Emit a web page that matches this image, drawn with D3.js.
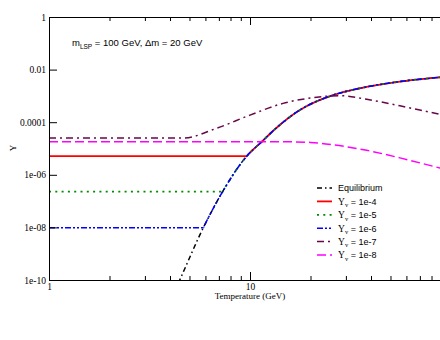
<!DOCTYPE html>
<html><head><meta charset="utf-8">
<script src="https://cdn.jsdelivr.net/npm/d3@7"></script>
<style>body{margin:0;background:#fff}svg{display:block}</style>
</head><body>
<svg id="c" width="440" height="340"></svg>
<script>
// ---- data ----
const eqT = [4.4, 4.52, 5.86, 7.31, 9.63, 11.43, 13.3, 17.7, 25.9, 35.2, 55.7, 88.2, 100];
const eqY = [7.6e-11, 1.2e-10, 9.8e-9, 2.3e-7, 5.1e-6, 1.8e-5, 5.4e-5, 2.9e-4, 1.07e-3, 1.95e-3, 3.5e-3, 5.1e-3, 5.6e-3];

const frozenLabels = ["1e-4", "1e-5", "1e-6"];
const frozenLevel = [5.1e-6, 2.3e-7, 9.8e-9];
const frozenJoinT = [9.63, 7.31, 5.86];

const y7T = [1, 4.65, 6.83, 10, 14.6, 21.5, 28, 38.1, 55.7, 88.2, 100];
const y7Y = [2.5e-5, 2.5e-5, 5.9e-5, 1.86e-4, 5.2e-4, 8.9e-4, 1.02e-3, 7.4e-4, 4.2e-4, 2.0e-4, 1.66e-4];

const y8T = [1, 10, 14, 20, 25.9, 38.1, 55.7, 88.2, 100];
const y8Y = [1.82e-5, 1.82e-5, 1.82e-5, 1.7e-5, 1.38e-5, 8.5e-6, 4.4e-6, 1.8e-6, 1.4e-6];

const yTicks = [1, 1e-2, 1e-4, 1e-6, 1e-8, 1e-10];
const yTickLabels = ["1", "0.01", "0.0001", "1e-06", "1e-08", "1e-10"];
const xMajor = [1, 10, 100];
const xMajorLabels = ["1", "10", ""];
const xMinor = [2,3,4,5,6,7,8,9,20,30,40,50,60,70,80,90];

const legendLabels = ["Equilibrium", "1e-4", "1e-5", "1e-6", "1e-7", "1e-8"];

// ---- layout ----
const L = 49, R = 451, T = 17, B = 280;
const svg = d3.select("#c");
const x = d3.scaleLog().domain([1, 100]).range([L, R]);
const y = d3.scaleLog().domain([1e-10, 1]).range([B, T]);

const serif = "'Liberation Serif', 'Times New Roman', serif";
const sans = "'Liberation Sans', Arial, Helvetica, sans-serif";

const defs = svg.append("defs");
defs.append("clipPath").attr("id", "clip")
  .append("rect").attr("x", L).attr("y", T).attr("width", R - L).attr("height", B - T);

const styles = [
  {color: "#000000", dash: "5,3,1.5,3", w: 1.5},
  {color: "#ff0000", dash: null, w: 1.8},
  {color: "#008b00", dash: "2,4.3", w: 1.8},
  {color: "#0000ff", dash: "6,2,2,2,2,2", w: 1.5},
  {color: "#670748", dash: "7,4,2,4", w: 1.5},
  {color: "#ff00ff", dash: "9,4", w: 1.5}
];

const line = d3.line().x(d => x(d[0])).y(d => y(d[1])).curve(d3.curveMonotoneX);
const eqPts = eqT.map((t, i) => [t, eqY[i]]);
const g = svg.append("g").attr("clip-path", "url(#clip)");

function draw(parent, pts, st) {
  parent.append("path").attr("d", line(pts)).attr("fill", "none")
    .attr("stroke", st.color).attr("stroke-width", st.w)
    .attr("stroke-dasharray", st.dash);
}

// equilibrium
draw(g, eqPts, styles[0]);
// frozen series: flat part, then they follow equilibrium
frozenLevel.forEach((lv, i) => {
  const st = styles[i + 1];
  const xj = x(frozenJoinT[i]);
  draw(g, [[1, lv], [frozenJoinT[i], lv]], st);
  defs.append("clipPath").attr("id", "cj" + i)
    .append("rect").attr("x", xj).attr("y", T).attr("width", R - xj).attr("height", B - T);
  const sub = g.append("g").attr("clip-path", `url(#cj${i})`);
  draw(sub, eqPts, st);
});
draw(g, y7T.map((t, i) => [t, y7Y[i]]), styles[4]);
draw(g, y8T.map((t, i) => [t, y8Y[i]]), styles[5]);

// axes
function styleAxis(sel) {
  sel.selectAll("path.domain").attr("stroke", "#000");
  sel.selectAll(".tick line").attr("stroke", "#000");
  sel.selectAll("text").attr("font-family", serif).attr("font-size", 9.5).attr("fill", "#000");
}
const bx = svg.append("g").attr("transform", `translate(0,${B})`)
  .call(d3.axisBottom(x).tickValues(xMajor).tickSize(-8).tickSizeOuter(0).tickPadding(3)
    .tickFormat((d, i) => xMajorLabels[i]));
styleAxis(bx);
const bxm = svg.append("g").attr("transform", `translate(0,${B})`)
  .call(d3.axisBottom(x).tickValues(xMinor).tickSize(-4).tickSizeOuter(0).tickFormat(""));
styleAxis(bxm);
const tx = svg.append("g").attr("transform", `translate(0,${T})`)
  .call(d3.axisTop(x).tickValues(xMajor).tickSize(-8).tickSizeOuter(0).tickFormat(""));
styleAxis(tx);
const txm = svg.append("g").attr("transform", `translate(0,${T})`)
  .call(d3.axisTop(x).tickValues(xMinor).tickSize(-4).tickSizeOuter(0).tickFormat(""));
styleAxis(txm);
const ly = svg.append("g").attr("transform", `translate(${L},0)`)
  .call(d3.axisLeft(y).tickValues(yTicks).tickSize(-8).tickSizeOuter(0).tickPadding(3)
    .tickFormat((d, i) => yTickLabels[i]));
styleAxis(ly);

// axis titles
svg.append("text").attr("x", 250).attr("y", 299).attr("text-anchor", "middle")
  .attr("font-family", serif).attr("font-size", 9).text("Temperature (GeV)");
svg.append("text").attr("transform", "translate(16,148) rotate(-90)").attr("text-anchor", "middle")
  .attr("font-family", serif).attr("font-size", 9).text("Y");

// annotation
const ann = svg.append("text").attr("x", 72).attr("y", 46)
  .attr("font-family", sans).attr("font-size", 9.5).attr("fill", "#000");
ann.append("tspan").text("m");
ann.append("tspan").attr("font-size", 6.5).attr("dy", 2.5).text("LSP");
ann.append("tspan").attr("dy", -2.5).text(" = 100 GeV, \u0394m = 20 GeV");

// legend
const lg = svg.append("g");
legendLabels.forEach((lab, i) => {
  const cy = 188 + i * 13.4;
  lg.append("line").attr("x1", 317).attr("x2", 332).attr("y1", cy).attr("y2", cy)
    .attr("stroke", styles[i].color).attr("stroke-width", styles[i].w)
    .attr("stroke-dasharray", styles[i].dash);
  const t = lg.append("text").attr("x", 338).attr("y", cy + 3.3)
    .attr("font-family", sans).attr("font-size", 9).attr("fill", "#000");
  if (i === 0) {
    t.text(lab);
  } else {
    t.append("tspan").attr("font-family", serif).attr("font-size", 9.5).text("Y");
    t.append("tspan").attr("font-family", serif).attr("font-size", 6.5).attr("dy", 2.5).text("v");
    t.append("tspan").attr("dy", -2.5).text(" = " + lab);
  }
});
</script>
</body></html>
